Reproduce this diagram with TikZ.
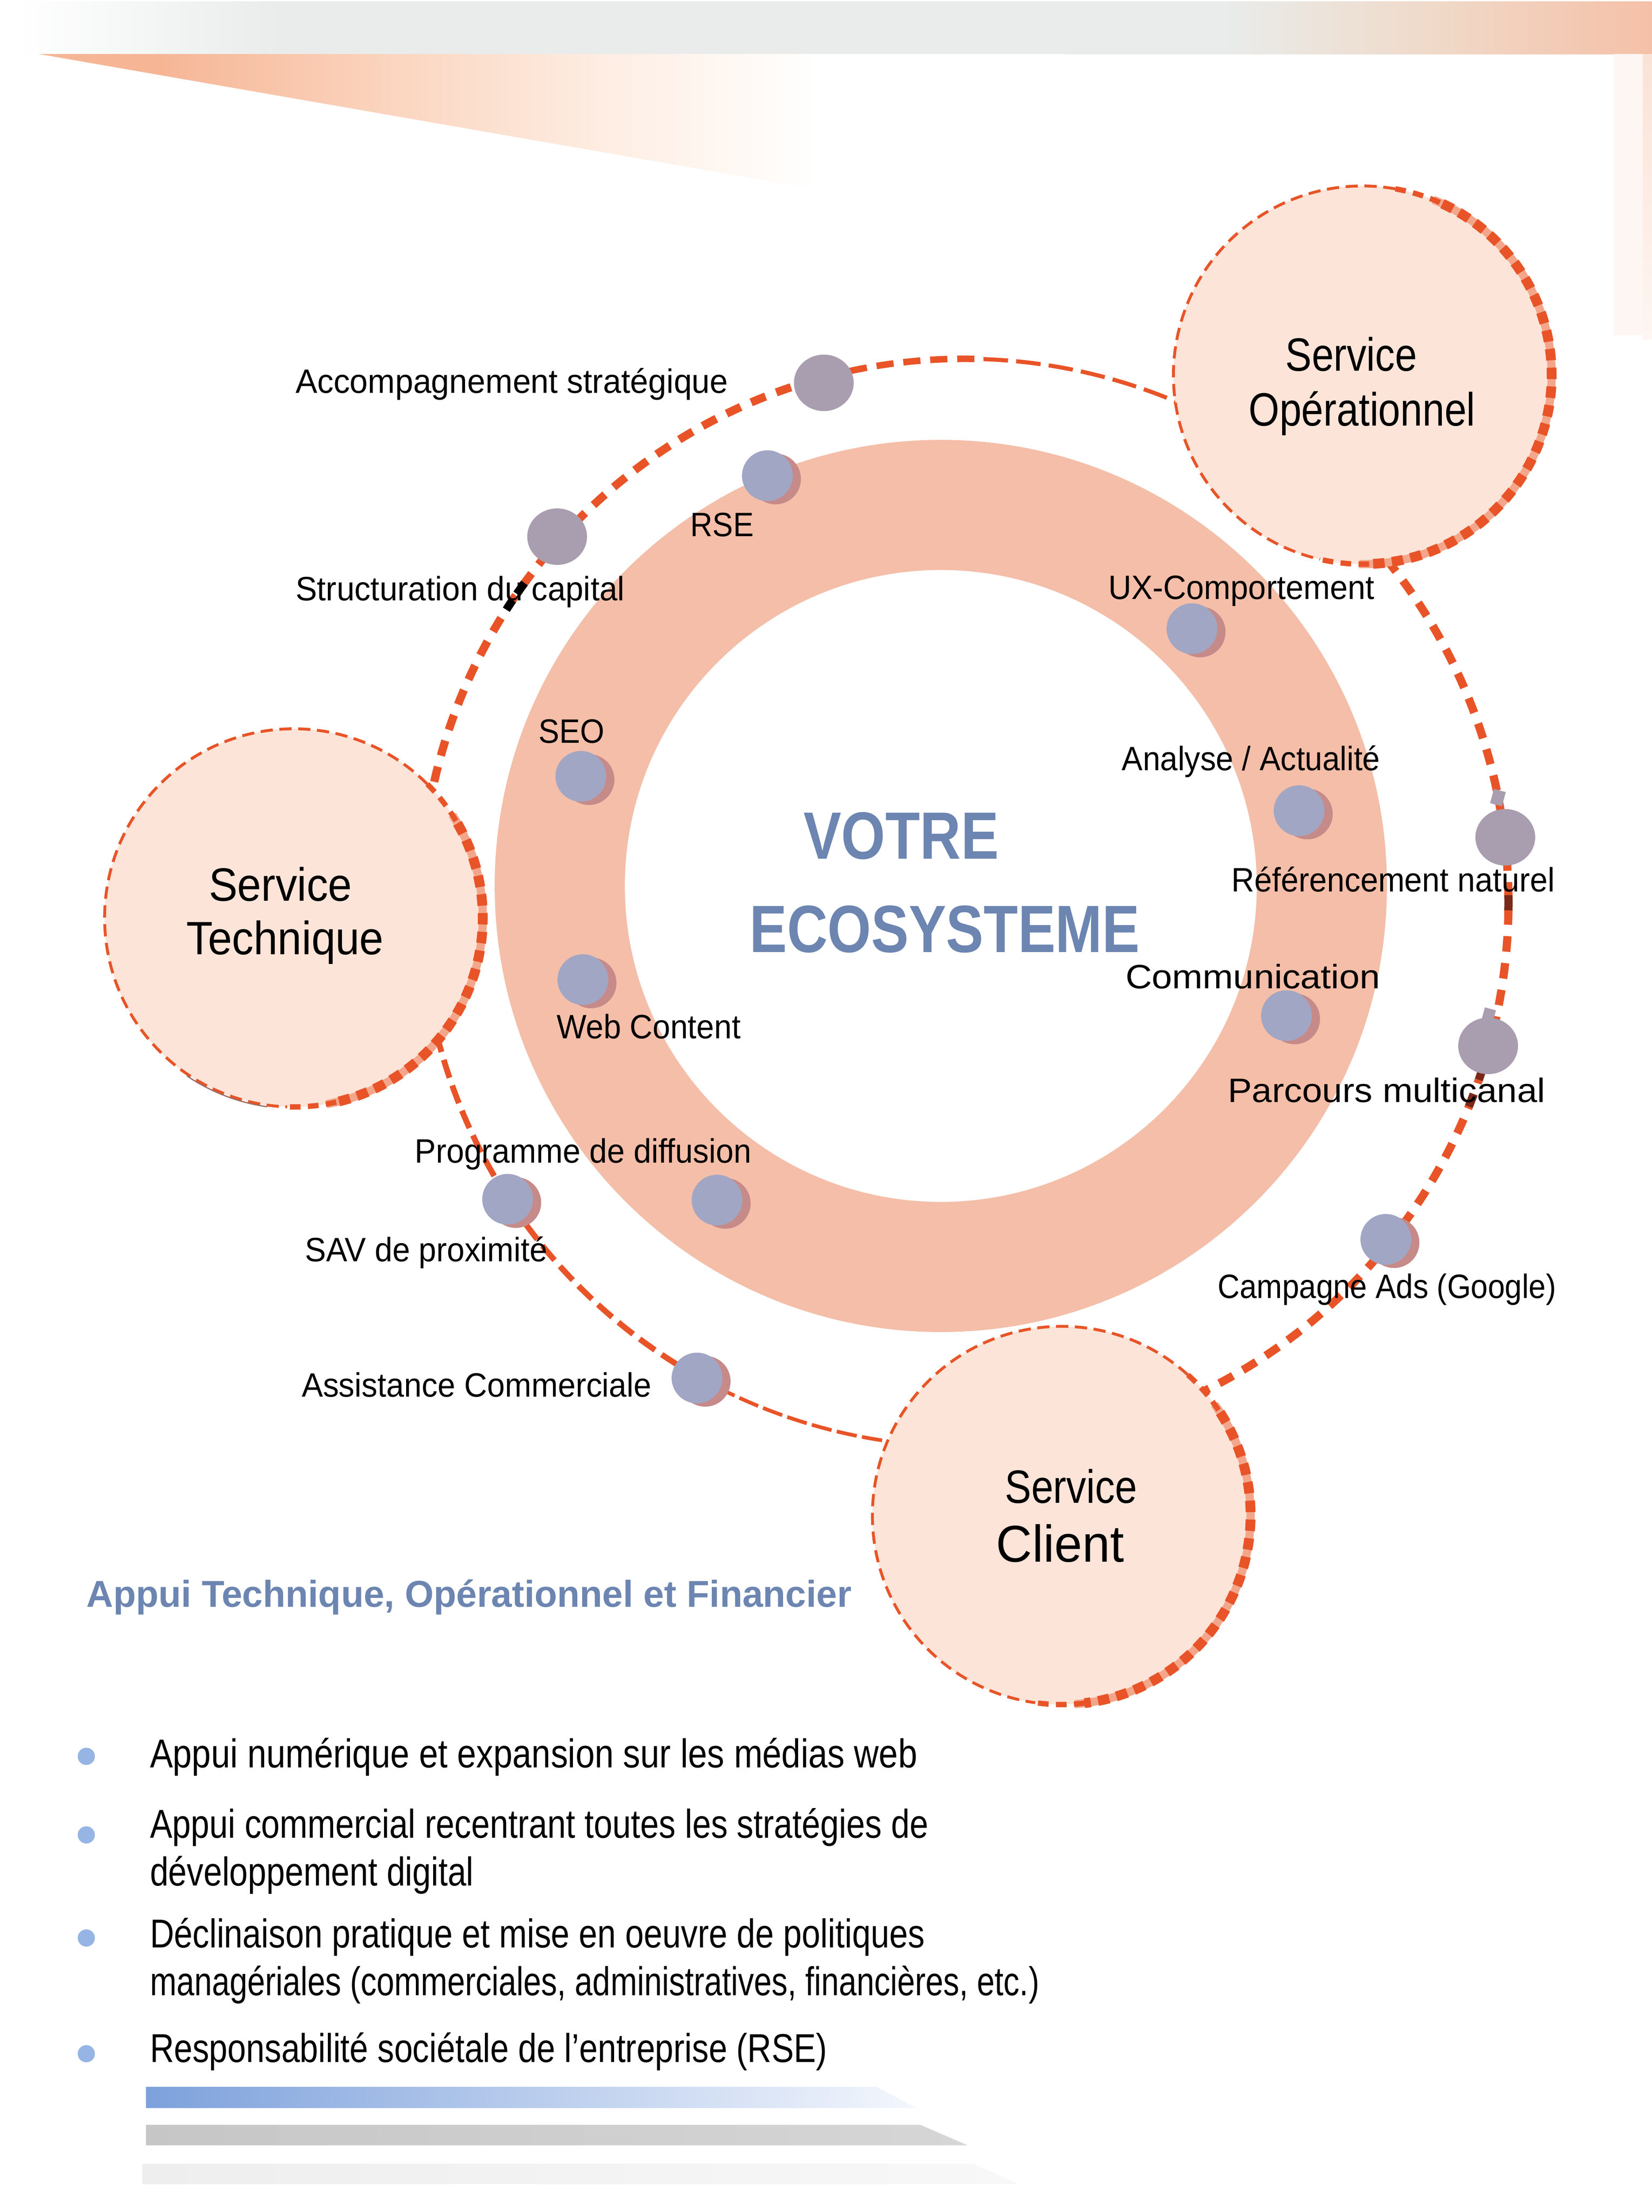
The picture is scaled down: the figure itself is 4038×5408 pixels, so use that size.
\documentclass[tikz,border=0pt]{standalone}
\usepackage{fontspec}
\setmainfont{Liberation Sans}
\usepackage{graphicx}
\usetikzlibrary{shapes.geometric}

\definecolor{ringc}{RGB}{244,190,168}
\definecolor{svcfill}{RGB}{252,228,216}
\definecolor{dashc}{RGB}{232,84,40}
\definecolor{underc}{RGB}{243,166,138}
\definecolor{dotblue}{RGB}{161,166,196}
\definecolor{dotshadow}{RGB}{198,138,136}
\definecolor{dotmauve}{RGB}{169,157,176}
\definecolor{titleblue}{RGB}{108,133,177}
\definecolor{bulblue}{RGB}{150,180,228}
\definecolor{darkbrown}{RGB}{122,40,24}
\definecolor{bandgrey}{RGB}{233,236,235}
\definecolor{bandmid}{RGB}{240,217,200}
\definecolor{bandor}{RGB}{245,192,168}
\definecolor{triA}{RGB}{246,182,150}
\definecolor{triB}{RGB}{251,215,194}
\definecolor{triC}{RGB}{254,238,228}
\definecolor{barblue}{RGB}{125,161,220}
\definecolor{barblue2}{RGB}{172,196,236}
\definecolor{barblueend}{RGB}{244,247,253}
\definecolor{bargrey}{RGB}{198,198,198}
\definecolor{bargrey2}{RGB}{214,214,214}
\definecolor{barfaint}{RGB}{238,238,238}
\definecolor{barfaint2}{RGB}{248,248,248}
\definecolor{edgepeach}{RGB}{254,246,242}
\definecolor{edgepeach2}{RGB}{250,226,214}

\pgfdeclarehorizontalshading{bandsh}{100bp}{color(0bp)=(white); color(25.5bp)=(white); color(33.5bp)=(bandgrey); color(62bp)=(bandgrey); color(68.5bp)=(bandmid); color(75bp)=(bandor); color(100bp)=(bandor)}
\pgfdeclarehorizontalshading{trish}{100bp}{color(0bp)=(triA); color(31bp)=(triA); color(43bp)=(triB); color(53bp)=(triC); color(63bp)=(white); color(100bp)=(white)}

\newsavebox\fitbox
\makeatletter
\newcommand\fitw[2]{\sbox\fitbox{#2}\dimen@=\wd\fitbox\pgfmathsetmacro\fitr{#1*0.284528/\strip@pt\dimen@}\scalebox{\fitr}[1]{\usebox\fitbox}}
\makeatother

\newcommand\orbarc[3]{\draw[#1] (O) ++(#2:13.29cm) arc[start angle=#2, end angle=#3, radius=13.29cm];}
\newcommand\svcborder[3]{%
  \draw[underc, line width=0.2cm] (#1.center) ++({#2-12}:4.62cm) arc[start angle={#2-12}, end angle={#3+12}, radius=4.62cm];
  \draw[dashc, line width=0.07cm, dash pattern=on 0.3cm off 0.16cm] (#1.center) ++(#2:4.62cm) arc[start angle=#2, end angle={#3+360}, radius=4.62cm];
  \draw[dashc, line width=0.13cm, dash pattern=on 0.26cm off 0.18cm] (#1.center) ++(#2:4.62cm) arc[start angle=#2, end angle={#2-15}, radius=4.62cm];
  \draw[dashc, line width=0.24cm, dash pattern=on 0.28cm off 0.18cm] (#1.center) ++({#2-15}:4.62cm) arc[start angle={#2-15}, end angle={#3+15}, radius=4.62cm];
  \draw[dashc, line width=0.13cm, dash pattern=on 0.26cm off 0.18cm] (#1.center) ++({#3+15}:4.62cm) arc[start angle={#3+15}, end angle=#3, radius=4.62cm];
}

\tikzset{
  orb/.style={draw=dashc, line cap=butt},
  thickd/.style={orb, line width=0.2cm, dash pattern=on 0.38cm off 0.28cm},
  semid/.style={orb, line width=0.16cm, dash pattern=on 0.42cm off 0.24cm},
  midd/.style={orb, line width=0.14cm, dash pattern=on 0.46cm off 0.2cm},
  thind/.style={orb, line width=0.09cm, dash pattern=on 0.5cm off 0.13cm},
  thinlong/.style={orb, line width=0.1cm, dash pattern=on 0.6cm off 0.2cm},
  svc/.style={circle, fill=svcfill, minimum size=9.24cm, inner sep=0pt},
  bdt/.style={circle, fill=dotblue, minimum size=1.24cm, inner sep=0pt},
  bsh/.style={circle, fill=dotshadow, minimum size=1.24cm, inner sep=0pt},
  mdt/.style={ellipse, fill=dotmauve, minimum width=1.46cm, minimum height=1.38cm, inner sep=0pt},
  bul/.style={circle, fill=bulblue, minimum size=0.42cm, inner sep=0pt},
  lbl/.style={inner sep=0pt, anchor=base west, font=\fontsize{23.5pt}{28pt}\selectfont},
  svct/.style={inner sep=0pt, anchor=base west, font=\fontsize{32.5pt}{38pt}\selectfont},
  bigt/.style={inner sep=0pt, anchor=base west, text=titleblue, font=\fontsize{46.5pt}{54pt}\selectfont\bfseries},
  ttl/.style={inner sep=0pt, anchor=base west, text=titleblue, font=\fontsize{26pt}{30pt}\selectfont\bfseries},
  blt/.style={inner sep=0pt, anchor=base west, font=\fontsize{28pt}{33pt}\selectfont},
}

\begin{document}
\begin{tikzpicture}[x=0.01cm, y=0.01cm]
\useasboundingbox (0,0) rectangle (4038,-5408);
\fill[white] (0,0) rectangle (4038,-5408);

% header decorations
\shade[shading=bandsh] (0,-4) rectangle (4038,-132);
\shade[shading=trish] (95,-132) -- (2600,-132) -- (2300,-516) -- cycle;
\fill[edgepeach] (3946,-132) rectangle (4038,-820);
\shade[top color=edgepeach2, bottom color=edgepeach] (4016,-132) rectangle (4038,-830);

% ring
\coordinate (RC) at (2300,-2166);
\fill[ringc, even odd rule] (RC) circle[radius=10.9cm] (RC) circle[radius=7.72cm];

% orbit
\coordinate (O) at (2358,-2207);
\orbarc{thickd}{42}{-64}
\orbarc{thind}{264}{241}
\orbarc{midd}{241}{213}
\orbarc{midd}{213}{193}
\orbarc{thickd}{170}{105}
\orbarc{semid}{105}{88}
\orbarc{thinlong}{88}{66}
% dark dashes
\draw[black, line width=0.2cm] (O) ++(144:13.29cm) arc[start angle=144, end angle=145.4, radius=13.29cm];
\draw[black, line width=0.2cm] (O) ++(146.2:13.29cm) arc[start angle=146.2, end angle=147.4, radius=13.29cm];
\draw[darkbrown, line width=0.2cm] (O) ++(0.8:13.29cm) arc[start angle=0.8, end angle=-0.8, radius=13.29cm];
\draw[darkbrown, line width=0.2cm] (O) ++(342.4:13.29cm) arc[start angle=342.4, end angle=341, radius=13.29cm];
\draw[darkbrown, line width=0.2cm] (O) ++(339.4:13.29cm) arc[start angle=339.4, end angle=338, radius=13.29cm];

% service circles
\node[svc] (sop) at (3331,-917) {};
\node[svc] (stec) at (718,-2244) {};
\node[svc] (scli) at (2595,-3705) {};
\svcborder{sop}{80}{-103}
\svcborder{stec}{45}{-92}
\svcborder{scli}{48}{-98}
\draw[darkbrown!70, line width=0.03cm] (stec.center) ++(236:4.66cm) arc[start angle=236, end angle=262, radius=4.66cm];

% dots on the ring and orbit
\node[bsh] (rse-s) at (1896,-1171) {};  \node[bdt] (rse) at (1876,-1163) {};
\node[bsh] (seo-s) at (1440,-1906) {};  \node[bdt] (seo) at (1420,-1898) {};
\node[bsh] (web-s) at (1445,-2403) {};  \node[bdt] (web) at (1425,-2395) {};
\node[bsh] (prog-s) at (1773,-2942) {}; \node[bdt] (prog) at (1753,-2934) {};
\node[bsh] (ux-s) at (2934,-1545) {};   \node[bdt] (ux) at (2914,-1537) {};
\node[bsh] (ana-s) at (3196,-1990) {};  \node[bdt] (ana) at (3176,-1982) {};
\node[bsh] (com-s) at (3165,-2491) {};  \node[bdt] (com) at (3145,-2483) {};
\node[bsh] (sav-s) at (1261,-2940) {};  \node[bdt] (sav) at (1241,-2932) {};
\node[bsh] (ass-s) at (1724,-3377) {};  \node[bdt] (ass) at (1704,-3369) {};
\node[bsh] (cam-s) at (3408,-3038) {};  \node[bdt] (cam) at (3388,-3030) {};
\node[mdt] (acc) at (2014,-936) {};
\node[mdt] (str) at (1362,-1312) {};
\node[mdt] (ref) at (3680,-2047) {};
\node[mdt] (par) at (3638,-2557) {};
\fill[dotmauve, rotate around={-15:(3662,-1950)}] (3647,-1932) rectangle (3677,-1968);
\fill[dotmauve, rotate around={-15:(3640,-2480)}] (3626,-2466) rectangle (3654,-2494);

% service texts
\node[svct] (sop1) at (3142,-907) {\fitw{321}{Service}};
\node[svct] (sop2) at (3052,-1041) {\fitw{554}{Opérationnel}};
\node[svct] (stec1) at (510,-2203) {\fitw{350}{Service}};
\node[svct] (stec2) at (455,-2333) {\fitw{482}{Technique}};
\node[svct] (scli1) at (2456,-3675) {\fitw{323}{Service}};
\node[svct, font=\fontsize{36pt}{42pt}\selectfont] (scli2) at (2435,-3819) {\fitw{312}{Client}};

% centre title
\node[bigt] (vt1) at (1964,-2100) {\fitw{477}{VOTRE}};
\node[bigt] (vt2) at (1832,-2328) {\fitw{953}{ECOSYSTEME}};

% labels
\node[lbl] (l1) at (722,-961) {\fitw{1057}{Accompagnement stratégique}};
\node[lbl] (l2) at (722,-1468) {\fitw{804}{Structuration du capital}};
\node[lbl] (l3) at (1687,-1311) {\fitw{155}{RSE}};
\node[lbl] (l4) at (1316,-1816) {\fitw{161}{SEO}};
\node[lbl] (l5) at (1360,-2539) {\fitw{450}{Web Content}};
\node[lbl] (l6) at (1013,-2843) {\fitw{823}{Programme de diffusion}};
\node[lbl] (l7) at (745,-3084) {\fitw{592}{SAV de proximité}};
\node[lbl] (l8) at (737,-3415) {\fitw{855}{Assistance Commerciale}};
\node[lbl] (l9) at (2709,-1465) {\fitw{650}{UX-Comportement}};
\node[lbl] (l10) at (2742,-1884) {\fitw{631}{Analyse / Actualité}};
\node[lbl] (l11) at (3010,-2180) {\fitw{790}{Référencement naturel}};
\node[lbl] (l12) at (2751,-2417) {\fitw{622}{Communication}};
\node[lbl] (l13) at (3001,-2695) {\fitw{776}{Parcours multicanal}};
\node[lbl] (l14) at (2976,-3174) {\fitw{827}{Campagne Ads (Google)}};

% bottom section
\node[ttl] (t0) at (211,-3929) {\fitw{1869}{Appui Technique, Opérationnel et Financier}};
\node[bul] (b1) at (211,-4294) {};
\node[bul] (b2) at (211,-4486) {};
\node[bul] (b3) at (211,-4738) {};
\node[bul] (b4) at (211,-5021) {};
\node[blt] (t1) at (366,-4321) {\fitw{1875}{Appui numérique et expansion sur les médias web}};
\node[blt] (t2) at (366,-4493) {\fitw{1902}{Appui commercial recentrant toutes les stratégies de}};
\node[blt] (t2b) at (366,-4610) {\fitw{791}{développement digital}};
\node[blt] (t3) at (366,-4762) {\fitw{1893}{Déclinaison pratique et mise en oeuvre de politiques}};
\node[blt] (t3b) at (366,-4879) {\fitw{2173}{managériales (commerciales, administratives, financières, etc.)}};
\node[blt] (t4) at (366,-5042) {\fitw{1655}{Responsabilité sociétale de l’entreprise (RSE)}};

% bars
\shade[left color=barblue, middle color=barblue2, right color=barblueend] (357,-5102) -- (2143,-5102) -- (2241,-5154) -- (357,-5154) -- cycle;
\shade[left color=bargrey, right color=bargrey2] (357,-5195) -- (2250,-5195) -- (2366,-5245) -- (357,-5245) -- cycle;
\shade[left color=barfaint, right color=barfaint2] (348,-5290) -- (2380,-5290) -- (2491,-5340) -- (348,-5340) -- cycle;
\end{tikzpicture}
\end{document}
